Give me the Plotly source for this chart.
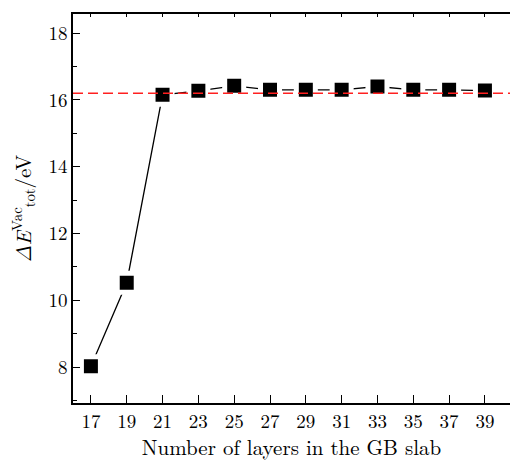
import plotly.graph_objects as go

layers = [17, 19, 21, 23, 25, 27, 29, 31, 33, 35, 37, 39]
energy = [8.03, 10.53, 16.15, 16.27, 16.42, 16.30, 16.30, 16.30, 16.40, 16.30, 16.30, 16.28]
ref_level = 16.2
x_ticks = list(range(17, 40, 2))
y_ticks = [8, 10, 12, 14, 16, 18]

tick_font = dict(family="Latin Modern Roman, serif", size=19, color="black")
title_font = dict(family="Latin Modern Roman, serif", size=21, color="black")

fig = go.Figure()
fig.add_trace(go.Scatter(
    x=layers, y=energy, mode="lines+markers",
    line=dict(color="black", width=1.3),
    marker=dict(symbol="square", size=19, color="black",
                line=dict(color="white", width=5)),
    showlegend=False,
))
# invisible trace to activate top axis
fig.add_trace(go.Scatter(x=[layers[0]], y=[energy[0]], xaxis="x2", mode="markers",
                         marker=dict(opacity=0), showlegend=False, hoverinfo="skip"))

fig.add_shape(type="line", xref="paper", x0=0, x1=1, yref="y", y0=ref_level, y1=ref_level,
              line=dict(color="#ff2020", width=1.6, dash="10px,5px"), layer="above")

fig.update_layout(
    width=510, height=461,
    margin=dict(l=73, r=0, t=14, b=58),
    plot_bgcolor="white", paper_bgcolor="white",
    xaxis=dict(range=[16, 40.4], tickvals=x_ticks, ticktext=[str(v) for v in x_ticks],
               ticks="inside", ticklen=8, tickwidth=1.3, tickcolor="black",
               showline=True, linecolor="black", linewidth=1.6, mirror=False,
               showgrid=False, zeroline=False, tickfont=tick_font,
               title=dict(text="Number of layers in the GB slab", font=title_font, standoff=10)),
    xaxis2=dict(range=[16, 40.4], overlaying="x", side="top", tickvals=x_ticks,
                ticks="inside", ticklen=3, tickwidth=1.3, tickcolor="black",
                showticklabels=False, showgrid=False, zeroline=False,
                showline=True, linecolor="black", linewidth=1.6),
    yaxis=dict(range=[6.93, 18.57], tickvals=y_ticks, ticktext=[str(v) for v in y_ticks],
               ticks="inside", ticklen=7, tickwidth=1.3, tickcolor="black",
               minor=dict(tickvals=[7, 9, 11, 13, 15, 17], ticks="inside", ticklen=4,
                          tickwidth=1.3, tickcolor="black", showgrid=False),
               showline=True, linecolor="black", linewidth=1.6, mirror=False,
               showgrid=False, zeroline=False, tickfont=tick_font,
               title=dict(text="<i>ΔE</i><sup>Vac</sup><sub>tot</sub>/eV", font=title_font, standoff=11)),
)

fig.write_html("out.html")
